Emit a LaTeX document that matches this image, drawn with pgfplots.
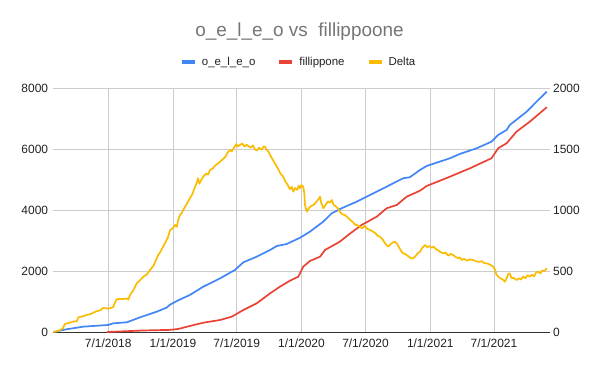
\documentclass[border=0pt]{standalone}
\usepackage{pgfplots}
\pgfplotsset{compat=1.18}
\usepackage{fontspec}
\setmainfont{Liberation Sans}
\definecolor{cblue}{HTML}{4285F4}
\definecolor{cred}{HTML}{EA4335}
\definecolor{cyellow}{HTML}{FBBC04}
\definecolor{cgrid}{HTML}{CCCCCC}
\definecolor{ctext}{HTML}{222222}
\definecolor{caxis}{HTML}{333333}
\definecolor{ctitle}{HTML}{757575}

\pgfplotstableread{
day val
25 0
63 90
110 175
181 230
195 285
234 318
271 480
319 666
347 800
357 900
380 1040
413 1214
451 1486
499 1760
541 2034
565 2286
603 2470
641 2690
660 2820
688 2886
726 3090
754 3290
792 3618
816 3893
844 4057
887 4274
925 4494
972 4766
1019 5041
1038 5075
1067 5314
1086 5445
1152 5697
1180 5838
1228 6025
1270 6242
1289 6462
1313 6626
1322 6790
1370 7226
1403 7610
1427 7882
}\blue

\pgfplotstableread{
day val
177 0
281 50
357 70
380 100
413 197
451 305
499 394
532 502
565 722
603 941
641 1269
669 1486
697 1680
721 1814
735 2142
754 2329
783 2470
797 2690
839 2962
869 3237
901 3510
944 3782
972 4057
1001 4166
1029 4438
1067 4635
1086 4789
1152 5094
1209 5369
1270 5697
1289 6025
1313 6189
1341 6570
1379 6898
1427 7370
}\red

\pgfplotstableread{
day val
25 0
35 5
44 16
52 30
58 66
70 75
85 88
91 85
96 120
110 130
120 140
129 145
140 160
148 170
158 178
167 197
175 195
181 191
190 198
195 205
200 240
205 268
215 272
225 270
234 276
238 265
243 303
252 340
262 399
270 420
281 454
290 470
300 508
310 545
318 600
323 631
330 660
335 690
342 727
350 770
357 836
364 850
371 877
376 863
380 920
385 959
390 975
394 1000
400 1030
406 1060
413 1096
420 1130
425 1170
432 1219
436 1260
440 1215
446 1250
451 1274
460 1300
465 1290
470 1328
478 1340
485 1365
492 1380
499 1397
508 1420
515 1440
520 1470
527 1492
532 1480
538 1510
545 1540
550 1520
555 1533
562 1545
568 1520
574 1535
579 1525
585 1510
592 1530
597 1500
603 1487
610 1510
617 1495
622 1520
626 1520
632 1490
636 1480
641 1451
647 1420
653 1390
660 1356
665 1330
670 1300
678 1274
685 1230
690 1210
697 1170
702 1190
707 1150
712 1180
718 1165
722 1200
726 1178
730 1205
735 1190
738 1140
740 1041
743 1010
745 986
750 1010
756 1030
764 1041
770 1060
776 1080
783 1109
786 1060
789 1040
792 1014
798 1040
805 1070
811 1060
816 1082
822 1040
828 1030
834 1010
839 986
846 965
853 960
861 940
869 918
876 900
882 880
889 875
896 863
903 850
910 870
917 845
925 836
932 825
940 810
946 790
953 781
960 760
967 730
972 710
977 700
983 720
990 735
996 740
1002 720
1008 690
1013 665
1019 645
1027 635
1034 620
1041 605
1048 604
1055 625
1060 645
1067 658
1073 690
1077 700
1081 713
1088 695
1094 705
1100 690
1105 700
1112 680
1118 670
1125 655
1133 645
1140 650
1147 625
1154 640
1161 631
1168 615
1175 605
1180 612
1185 590
1192 600
1200 585
1208 595
1218 590
1226 580
1234 575
1242 580
1249 565
1256 563
1263 555
1270 545
1275 535
1280 510
1284 470
1289 454
1295 440
1302 430
1308 412
1313 440
1317 475
1322 481
1327 440
1332 445
1337 435
1341 426
1348 440
1354 430
1360 455
1366 440
1372 465
1379 454
1385 470
1391 455
1397 490
1403 494
1409 480
1414 505
1420 500
1427 522
}\delta

\begin{document}
\begin{tikzpicture}[x=1bp,y=1bp]
\path[use as bounding box] (0,0) rectangle (600,371);
\node[text=ctitle, font=\fontsize{19}{22}\selectfont] at (299.5,339.3) {o\_e\_l\_e\_o vs\ \ fillippoone};
\begin{axis}[
  at={(52.6bp,39bp)}, anchor=south west,
  scale only axis, width=497bp, height=244bp,
  xmin=23, xmax=1435, ymin=0, ymax=8000,
  xtick={181,365,546,730,912,1096,1277},
  xticklabels={7/1/2018,1/1/2019,7/1/2019,1/1/2020,7/1/2020,1/1/2021,7/1/2021},
  ytick={0,2000,4000,6000,8000},
  grid=major, major grid style={cgrid, line width=0.8bp},
  axis x line*=bottom, axis y line*=left,
  x axis line style={caxis, line width=0.9bp, -},
  y axis line style={draw=none},
  major tick length=0,
  tick label style={font=\fontsize{12}{14}\selectfont, text=ctext},
  xticklabel style={yshift=-3bp},
  yticklabel style={xshift=-1bp},
  /pgf/number format/assume math mode=true,
  /pgf/number format/1000 sep={},
  legend style={at={(0.495,1.107)}, anchor=center, draw=none, fill=none,
    font=\fontsize{11.5}{13}\selectfont, text=ctext,
    /tikz/every even column/.append style={column sep=20bp},
    /tikz/every odd column/.append style={column sep=3bp}},
  legend columns=3,
  legend image code/.code={\draw[line width=4bp, line cap=butt] (0bp,0bp) -- (13bp,0bp);},
]
\addplot[cblue, line width=1.7bp, line join=round] table[x=day,y=val] {\blue};
\addlegendentry{o\_e\_l\_e\_o}
\addplot[cred, line width=1.7bp, line join=round] table[x=day,y=val] {\red};
\addlegendentry{fillippone}
\addlegendimage{cyellow}
\addlegendentry{Delta}
\end{axis}
\begin{axis}[
  at={(52.6bp,39bp)}, anchor=south west,
  scale only axis, width=497bp, height=244bp,
  xmin=23, xmax=1435, ymin=0, ymax=2000,
  axis x line=none, axis y line*=right,
  y axis line style={draw=none},
  ytick={0,500,1000,1500,2000},
  major tick length=0,
  tick label style={font=\fontsize{12}{14}\selectfont, text=ctext},
  /pgf/number format/assume math mode=true,
  /pgf/number format/1000 sep={},
]
\addplot[cyellow, line width=1.7bp, line join=round] table[x=day,y=val] {\delta};
\end{axis}
\end{tikzpicture}
\end{document}
